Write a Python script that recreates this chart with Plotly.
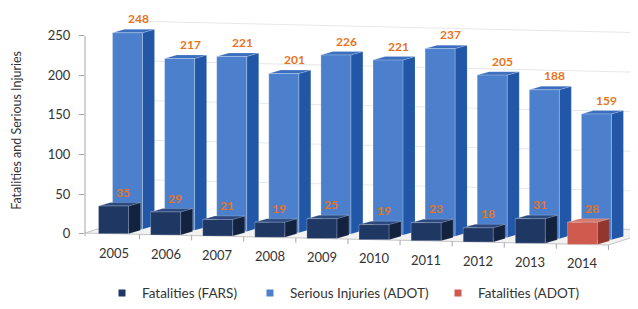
import plotly.graph_objects as go

# ---------------- data ----------------
years = ["2005", "2006", "2007", "2008", "2009", "2010", "2011", "2012", "2013", "2014"]
serious_adot = [248, 217, 221, 201, 226, 221, 237, 205, 188, 159]
fatal_fars = [35, 29, 21, 19, 25, 19, 23, 18, 31, None]
fatal_adot = [None, None, None, None, None, None, None, None, None, 28]
y_ticks = [0, 50, 100, 150, 200, 250]

# ---------------- styling / projection constants ----------------
W, H = 638, 309
ML, MR, MT, MB = 85, 8, 8, 0
PW, PH = W - ML - MR, H - MT - MB
ZERO_PX = 236            # pixel row of value 0 (front row, first category)

PXX = 1 / 52.1           # category units per horizontal pixel
PXY = 1.25               # value units per vertical pixel
BW = 30 * PXX            # bar front width
ROW_DX, ROW_DY = 14 * PXX, 4.6 * PXY   # offset of the back row
BAR_DX, BAR_DY = 12 * PXX, 3.5 * PXY   # bar depth
SLOPE = -1.2 * PXY       # floor drop per category (perspective)
WALL = 3.3               # depth of back wall in rows
X_RANGE = [(ML - 113.5) * PXX, (W - MR - 113.5) * PXX]
Y_RANGE = [(ZERO_PX - H + MB) * PXY, (ZERO_PX - MT) * PXY]

FONT = "Lato"
ORANGE = "#E8731C"
TXT = "#333333"

C_FARS = dict(front="#1F3763", side="#13223F", top="#2C4A80")
C_SER = dict(front="#4C80CD", side="#2157A6", top="#3B6EBE")
C_ADOT = dict(front="#CF5A4E", side="#92362E", top="#D6796C")


def base(u):
    return SLOPE * u


fig = go.Figure()

# ---------------- floor ----------------
u0, u1 = X_RANGE[0], 9.5
fx = [u0, u1, u1 + WALL * ROW_DX, u0 + WALL * ROW_DX, u0]
fy = [base(u0), base(u1), base(u1) + WALL * ROW_DY, base(u0) + WALL * ROW_DY, base(u0)]
fig.add_trace(go.Scatter(x=fx, y=fy, mode="lines", fill="toself", fillcolor="#F2F2F2",
                         line=dict(color="#C4C4C4", width=1), hoverinfo="skip", showlegend=False))

# category tick marks on floor front edge
tx, ty = [], []
for i in range(len(years)):
    u = i + 0.5
    tx += [u, u, None]
    ty += [base(u), base(u) - 5 * PXY, None]
fig.add_trace(go.Scatter(x=tx, y=ty, mode="lines", line=dict(color="#A6A6A6", width=1),
                         hoverinfo="skip", showlegend=False))

# ---------------- back-wall gridlines ----------------
gx, gy = [], []
for v in y_ticks[1:]:
    a = X_RANGE[0] + WALL * ROW_DX
    b = X_RANGE[1] + 1
    gx += [a, b, None]
    gy += [v + base(a) + WALL * ROW_DY, v + base(b) + WALL * ROW_DY, None]
fig.add_trace(go.Scatter(x=gx, y=gy, mode="lines", line=dict(color="#E8E8E8", width=1),
                         hoverinfo="skip", showlegend=False))


def add_bars(values, row, colors, name, legend):
    fx_, fy_, sx, sy, tpx, tpy = [], [], [], [], [], []
    for i, v in enumerate(values):
        if v is None:
            continue
        xc = i + row * ROW_DX
        b = base(i) + row * ROW_DY
        t = b + v
        xl, xr = xc - BW / 2, xc + BW / 2
        fx_ += [xl, xr, xr, xl, xl, None]
        fy_ += [b, b, t, t, b, None]
        sx += [xr, xr + BAR_DX, xr + BAR_DX, xr, xr, None]
        sy += [b, b + BAR_DY, t + BAR_DY, t, b, None]
        tpx += [xl, xr, xr + BAR_DX, xl + BAR_DX, xl, None]
        tpy += [t, t, t + BAR_DY, t + BAR_DY, t, None]
    fig.add_trace(go.Scatter(x=sx, y=sy, mode="lines", fill="toself", fillcolor=colors["side"],
                             line=dict(color="rgba(255,255,255,0.2)", width=0.6),
                             hoverinfo="skip", showlegend=False))
    fig.add_trace(go.Scatter(x=tpx, y=tpy, mode="lines", fill="toself", fillcolor=colors["top"],
                             line=dict(color="rgba(255,255,255,0.3)", width=0.6),
                             hoverinfo="skip", showlegend=False))
    fig.add_trace(go.Scatter(x=fx_, y=fy_, mode="lines", fill="toself", fillcolor=colors["front"],
                             line=dict(color="rgba(255,255,255,0.35)", width=0.7),
                             name=name, hoverinfo="name", showlegend=False))
    # legend entry
    fig.add_trace(go.Scatter(x=[None], y=[None], mode="markers", name=name, legend=legend,
                             marker=dict(symbol="square", size=7, color=colors["front"])))


add_bars(serious_adot, 1, C_SER, "Serious Injuries (ADOT)", "legend2")
add_bars(fatal_fars, 0, C_FARS, "Fatalities (FARS)", "legend")
add_bars(fatal_adot, 0, C_ADOT, "Fatalities (ADOT)", "legend3")

# ---------------- value labels ----------------
ann = []
for i, v in enumerate(serious_adot):
    ann.append(dict(x=i + ROW_DX + 10.5 * PXX, y=base(i) + ROW_DY + v + 14 * PXY, text=str(v),
                    showarrow=False, xref="x", yref="y", yanchor="middle",
                    font=dict(family=FONT, size=12, color=ORANGE, weight="bold")))
for series in (fatal_fars, fatal_adot):
    for i, v in enumerate(series):
        if v is None:
            continue
        ann.append(dict(x=i + 9.5 * PXX, y=base(i) + v + 14 * PXY, text=str(v),
                        showarrow=False, xref="x", yref="y", yanchor="middle",
                        font=dict(family=FONT, size=12, color=ORANGE, weight="bold")))
# year labels
for i, yr in enumerate(years):
    ann.append(dict(x=i, y=base(i) - 19 * PXY, text=yr, showarrow=False, xref="x", yref="y",
                    yanchor="middle", font=dict(family=FONT, size=13, color=TXT)))
# axis title
ann.append(dict(x=(17 - ML) / PW, y=(H - 132 - MB) / PH, xref="paper", yref="paper",
                xanchor="center", yanchor="middle",
                text="Fatalities and Serious Injuries", textangle=-90, showarrow=False,
                font=dict(family=FONT, size=12.5, color=TXT)))


def leg(px_square):
    return dict(orientation="h", x=(px_square - 20 - ML) / PW, xanchor="left",
                y=(H - 296 - MB) / PH, yanchor="middle", bgcolor="rgba(0,0,0,0)",
                font=dict(family=FONT, size=13.5, color=TXT), itemwidth=30)


fig.update_layout(
    width=W, height=H,
    margin=dict(l=ML, r=MR, t=MT, b=MB),
    paper_bgcolor="white", plot_bgcolor="white",
    xaxis=dict(range=X_RANGE, visible=False, fixedrange=True),
    yaxis=dict(range=Y_RANGE, tickvals=y_ticks, ticks="outside", ticklen=5,
               tickcolor="#A6A6A6", showgrid=False, zeroline=False, showline=False,
               ticklabelstandoff=6, fixedrange=True,
               tickfont=dict(family=FONT, size=13, color=TXT)),
    shapes=[dict(type="line", xref="paper", yref="y", x0=0, x1=0, y0=-3, y1=250,
                 line=dict(color="#A6A6A6", width=1))],
    annotations=ann,
    legend=leg(122),
    legend2=leg(270),
    legend3=leg(458),
    showlegend=True,
)

fig.write_html("out.html", config={"displayModeBar": False},
               post_script="document.body.style.margin='0';")
